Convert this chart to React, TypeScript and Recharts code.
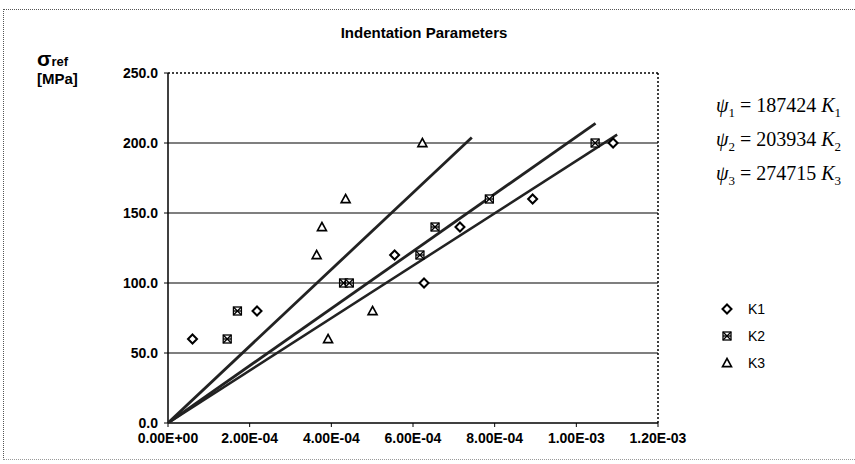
import React from "react";
import {
  ScatterChart,
  Scatter,
  XAxis,
  YAxis,
  ReferenceLine,
} from "recharts";

// measured points (K in x, sigma_ref in y)
const k1X = [6.0e-5, 2.18e-4, 5.55e-4, 6.27e-4, 7.15e-4, 8.93e-4, 1.09e-3];
const k1Y = [60, 80, 120, 100, 140, 160, 200];
const k2X = [1.45e-4, 1.7e-4, 4.3e-4, 4.44e-4, 6.17e-4, 6.54e-4, 7.87e-4, 1.046e-3];
const k2Y = [60, 80, 100, 100, 120, 140, 160, 200];
const k3X = [3.92e-4, 5.01e-4, 3.64e-4, 3.77e-4, 4.35e-4, 6.23e-4];
const k3Y = [60, 80, 120, 140, 160, 200];

// fitted lines, start and end points
const fit1X = [0, 1.1e-3];
const fit1Y = [0, 206];
const fit2X = [0, 1.047e-3];
const fit2Y = [0, 214];
const fit3X = [0, 7.44e-4];
const fit3Y = [0, 204];

const xTicks = [0, 2e-4, 4e-4, 6e-4, 8e-4, 1e-3, 1.2e-3];
const yTicks = [0, 50, 100, 150, 200, 250];
const gridLines = [50, 100, 150, 200];

const equations = [
  { idx: "1", value: "187424" },
  { idx: "2", value: "203934" },
  { idx: "3", value: "274715" },
];

const zip = (xs: number[], ys: number[]) => xs.map((x, i) => ({ x, y: ys[i] }));

const ARIAL = "'Liberation Sans', Arial, sans-serif";
const TIMES = "'Liberation Serif', 'Times New Roman', serif";

function fmtSci(v: number) {
  if (v === 0) return "0.00E+00";
  const [m, e] = v.toExponential(2).split("e");
  const n = parseInt(e, 10);
  const sign = n < 0 ? "-" : "+";
  return `${m}E${sign}${String(Math.abs(n)).padStart(2, "0")}`;
}

function Diamond(props: any) {
  const { cx, cy } = props;
  const r = 4.5;
  return (
    <path
      d={`M${cx},${cy - r}L${cx + r},${cy}L${cx},${cy + r}L${cx - r},${cy}Z`}
      fill="#fff"
      stroke="#000"
      strokeWidth={2}
    />
  );
}

function HashSquare(props: any) {
  const { cx, cy } = props;
  const r = 4;
  return (
    <g stroke="#000" strokeWidth={1.3} fill="#fff">
      <rect x={cx - r} y={cy - r} width={r * 2} height={r * 2} />
      <line x1={cx - r} y1={cy - r} x2={cx + r} y2={cy + r} />
      <line x1={cx + r} y1={cy - r} x2={cx - r} y2={cy + r} />
      <line x1={cx - r} y1={cy} x2={cx + r} y2={cy} />
    </g>
  );
}

function Triangle(props: any) {
  const { cx, cy } = props;
  const r = 4.5;
  return (
    <path
      d={`M${cx},${cy - r}L${cx + r},${cy + r * 0.8}L${cx - r},${cy + r * 0.8}Z`}
      fill="#fff"
      stroke="#000"
      strokeWidth={1.6}
    />
  );
}

const noDot = () => <g />;

export default function App() {
  const tickStyle = {
    fill: "#000",
    fontSize: 14,
    fontWeight: "bold" as const,
    fontFamily: ARIAL,
  };
  const legendItems = [
    { name: "K1", Shape: Diamond },
    { name: "K2", Shape: HashSquare },
    { name: "K3", Shape: Triangle },
  ];

  return (
    <div
      style={{
        position: "absolute",
        left: 0,
        top: 0,
        width: 855,
        height: 464,
        background: "#fff",
        fontFamily: ARIAL,
      }}
    >
      {/* outer frame */}
      <div
        style={{
          position: "absolute",
          left: 3,
          top: 9,
          width: 852,
          height: 451,
          borderTop: "1.5px dotted #555",
          borderLeft: "1.5px dotted #555",
          borderBottom: "1px dotted #999",
          boxSizing: "border-box",
        }}
      />
      <span
        style={{
          position: "absolute",
          left: 424,
          top: 24,
          transform: "translateX(-50%)",
          fontSize: 15,
          fontWeight: "bold",
          whiteSpace: "nowrap",
        }}
      >
        Indentation Parameters
      </span>
      <div
        style={{
          position: "absolute",
          left: 37,
          top: 50,
          fontWeight: "bold",
          fontSize: 15,
          lineHeight: "17px",
        }}
      >
        <div>
          <span style={{ fontSize: 21 }}>σ</span>
          <span style={{ fontSize: 13 }}>ref</span>
        </div>
        <div>[MPa]</div>
      </div>

      <ScatterChart
        width={855}
        height={464}
        margin={{ top: 73, right: 197, bottom: 11, left: 0 }}
        style={{ position: "absolute", left: 0, top: 0 }}
      >
        <XAxis
          type="number"
          dataKey="x"
          domain={[0, 1.2e-3]}
          ticks={xTicks}
          tickFormatter={fmtSci}
          tick={tickStyle}
          height={30}
          tickSize={4}
          tickMargin={6}
          axisLine={{ stroke: "#000", strokeWidth: 1.5 }}
          tickLine={{ stroke: "#000" }}
          allowDataOverflow
        />
        <YAxis
          type="number"
          dataKey="y"
          domain={[0, 250]}
          ticks={yTicks}
          tickFormatter={(v: number) => v.toFixed(1)}
          tick={tickStyle}
          width={168}
          tickSize={4}
          tickMargin={6}
          axisLine={{ stroke: "#000", strokeWidth: 1.5 }}
          tickLine={{ stroke: "#000" }}
          allowDataOverflow
        />
        {gridLines.map((v) => (
          <ReferenceLine key={v} y={v} stroke="#000" strokeWidth={1.2} />
        ))}
        <ReferenceLine y={250} stroke="#000" strokeWidth={1.5} strokeDasharray="2 2" />
        <ReferenceLine x={1.2e-3} stroke="#000" strokeWidth={1.5} strokeDasharray="2 2" />

        <Scatter
          data={zip(fit1X, fit1Y)}
          line={{ stroke: "#222", strokeWidth: 2.5 }}
          shape={noDot}
          isAnimationActive={false}
        />
        <Scatter
          data={zip(fit2X, fit2Y)}
          line={{ stroke: "#222", strokeWidth: 2.8 }}
          shape={noDot}
          isAnimationActive={false}
        />
        <Scatter
          data={zip(fit3X, fit3Y)}
          line={{ stroke: "#222", strokeWidth: 2.8 }}
          shape={noDot}
          isAnimationActive={false}
        />

        <Scatter name="K1" data={zip(k1X, k1Y)} shape={Diamond} isAnimationActive={false} />
        <Scatter name="K2" data={zip(k2X, k2Y)} shape={HashSquare} isAnimationActive={false} />
        <Scatter name="K3" data={zip(k3X, k3Y)} shape={Triangle} isAnimationActive={false} />
      </ScatterChart>

      {/* fit equations */}
      <div
        style={{
          position: "absolute",
          left: 716,
          top: 92,
          fontFamily: TIMES,
          fontSize: 20,
          lineHeight: "26px",
          whiteSpace: "nowrap",
        }}
      >
        {equations.map((e) => (
          <div key={e.idx}>
            <i>ψ</i>
            <sub style={{ fontSize: 13 }}>{e.idx}</sub> = {e.value} <i>K</i>
            <sub style={{ fontSize: 13 }}>{e.idx}</sub>
          </div>
        ))}
      </div>

      {/* legend */}
      <div style={{ position: "absolute", left: 718, top: 295 }}>
        {legendItems.map(({ name, Shape }) => (
          <div
            key={name}
            style={{ display: "flex", alignItems: "center", height: 27 }}
          >
            <svg width={18} height={14}>
              <Shape cx={9} cy={7} />
            </svg>
            <span style={{ marginLeft: 12, fontSize: 14 }}>{name}</span>
          </div>
        ))}
      </div>
    </div>
  );
}
